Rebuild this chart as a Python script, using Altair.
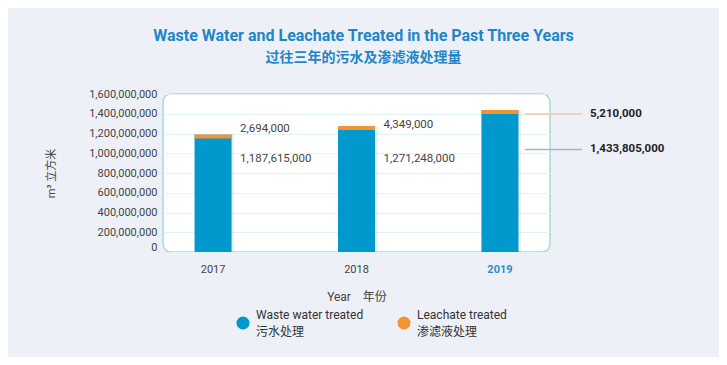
import altair as alt
import pandas as pd

years = ["2017", "2018", "2019"]
waste = [1187615000, 1271248000, 1433805000]
leachate = [2694000, 4349000, 5210000]
series_names = ["Waste water treated\n污水处理", "Leachate treated\n渗滤液处理"]
y_ticks = [0, 200000000, 400000000, 600000000, 800000000, 1000000000,
           1200000000, 1400000000, 1600000000]

df = pd.DataFrame({"year": years, "waste": waste, "leachate": leachate})
df["total"] = df["waste"] + df["leachate"]
df["s_waste"] = series_names[0]
df["s_leach"] = series_names[1]

# label vertical offsets (px) per year for the inside labels
label_dy = {"2017": (-5, 24), "2018": (-1, 33)}

FONT = "Roboto, 'Noto Sans CJK SC', sans-serif"
BLUE = "#0098CD"
ORANGE = "#F39433"
TXT = "#444444"
LABEL_SHIFT = 8  # legend labels are lifted by this; axis labels are put back

x = alt.X("year:N", title="Year\u00a0\u00a0\u00a0\u00a0年份",
          scale=alt.Scale(paddingInner=0.742, paddingOuter=0.22),
          axis=alt.Axis(labelAngle=0, domain=False, ticks=False,
                        labelPadding=11 + LABEL_SHIFT, labelFontSize=11,
                        labelColor={"condition": {"test": "datum.value == '2019'", "value": "#2A8FCB"}, "value": TXT},
                        labelFontWeight={"condition": {"test": "datum.value == '2019'", "value": "bold"}, "value": "normal"},
                        titlePadding=17, titleFontSize=12, titleFontWeight="normal",
                        titleColor=TXT))

yscale = alt.Scale(domain=[0, 1600000000], nice=False)
yaxis = alt.Axis(values=y_ticks, format=",d", domain=False, ticks=False, labelPadding=6,
                 labelOffset=LABEL_SHIFT,
                 labelFontSize=11, labelColor=TXT, gridColor="#E2F1F1", labelOverlap=False,
                 labelBaseline={"condition": {"test": "datum.value == 0", "value": "bottom"}, "value": "middle"},
                 title="m³ 立方米", titleFontSize=11, titleFontWeight="normal",
                 titleColor=TXT, titlePadding=32)

def Y(field):
    return alt.Y(field, scale=yscale, axis=yaxis)

cscale = alt.Scale(domain=series_names, range=[BLUE, ORANGE])
clegend = alt.Legend(title=None, orient="none", legendX=73, legendY=222,
                     direction="horizontal", columns=2, symbolType="circle",
                     symbolSize=170, symbolStrokeWidth=0, symbolOpacity=1,
                     labelFontSize=12, labelColor="#333", labelOffset=6, columnPadding=33,
                     labelExpr="split(datum.label, '\\n')", labelLimit=200)

base = alt.Chart(df)

shadow = base.mark_bar(color="#000000", opacity=0.07, xOffset=2.5).encode(
    x=x, y=Y("waste:Q"))

bars = base.mark_bar(opacity=1).encode(
    x=x, y=Y("waste:Q"),
    color=alt.Color("s_waste:N", scale=cscale, legend=clegend))

stripe = base.mark_tick(thickness=4, size=37, yOffset=2, opacity=1).encode(
    x=x, y=Y("total:Q"),
    color=alt.Color("s_leach:N", scale=cscale, legend=clegend))

layers = [shadow, bars, stripe]
for yr, (d1, d2) in label_dy.items():
    sub = base.transform_filter(f"datum.year == '{yr}'")
    layers.append(sub.mark_text(align="left", baseline="middle", dx=27, dy=d1,
                                fontSize=11.5, color=TXT).encode(
        x=x, y=Y("total:Q"), text=alt.Text("leachate:Q", format=",d")))
    layers.append(sub.mark_text(align="left", baseline="middle", dx=27, dy=d2,
                                fontSize=11.5, color=TXT).encode(
        x=x, y=Y("waste:Q"), text=alt.Text("waste:Q", format=",d")))

outer = base.transform_filter("datum.year == '2019'")
layers += [
    outer.mark_rule(color="#F4C4A2", strokeWidth=1.5, xOffset=25, x2Offset=82,
                    yOffset=4).encode(x=x, x2="year:N", y=Y("total:Q")),
    outer.mark_rule(color="#9DB5D2", strokeWidth=1.5, xOffset=25, x2Offset=82,
                    yOffset=39).encode(x=x, x2="year:N", y=Y("waste:Q")),
    outer.mark_text(align="left", baseline="middle", dx=90, dy=4, fontSize=11.5,
                    fontWeight="bold", color="#222").encode(
        x=x, y=Y("total:Q"), text=alt.Text("leachate:Q", format=",d")),
    outer.mark_text(align="left", baseline="middle", dx=90, dy=39, fontSize=11.5,
                    fontWeight="bold", color="#222").encode(
        x=x, y=Y("waste:Q"), text=alt.Text("waste:Q", format=",d")),
]

chart = alt.layer(*layers).properties(
    width=387, height=158,
    title=alt.Title("Waste Water and Leachate Treated in the Past Three Years",
                    subtitle="过往三年的污水及渗滤液处理量",
                    anchor="middle", frame="group", dx=7, offset=23,
                    fontSize=16, fontWeight="bold", color="#1E86C8",
                    subtitleFontSize=14, subtitleFontWeight="bold",
                    subtitleColor="#1E86C8", subtitlePadding=7),
    autosize=alt.AutoSizeParams(type="none"),
    padding={"left": 155, "top": 86, "right": 169, "bottom": 105},
).configure(
    background="#EDF0F7", font=FONT,
    style={"guide-label": {"lineHeight": 17, "dy": -LABEL_SHIFT}},
).configure_view(
    fill="white", stroke="#A6DADA", strokeWidth=1.5, cornerRadius=8
)

chart.save("out.html", embed_options={"renderer": "svg", "actions": False})
